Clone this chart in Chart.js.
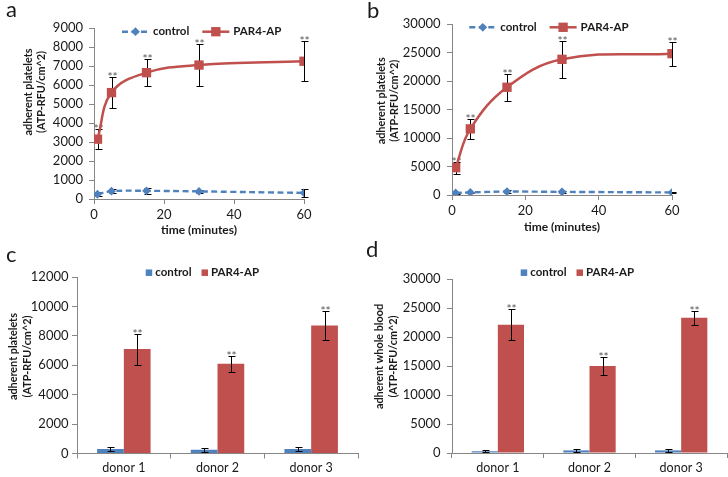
<!DOCTYPE html>
<html><head><meta charset="utf-8">
<script src="https://cdn.jsdelivr.net/npm/chart.js@4.4.1/dist/chart.umd.min.js"></script>
<style>
html,body{margin:0;padding:0;background:#fff;}
#wrap{position:relative;width:728px;height:477px;overflow:hidden;background:#fff;}
canvas{position:absolute;}
</style></head><body>
<div id="wrap">
<canvas id="ca" width="364" height="240" style="left:0;top:0"></canvas>
<canvas id="cb" width="364" height="240" style="left:364px;top:0"></canvas>
<canvas id="cc" width="364" height="237" style="left:0;top:240px"></canvas>
<canvas id="cd" width="364" height="237" style="left:364px;top:240px"></canvas>
</div>
<script>
// ---------------- data ----------------
const times = [1, 5, 15, 30, 60];
const timeTicks = [0, 20, 40, 60];

const aControl    = [250, 410, 430, 400, 320];
const aControlErr = [100, 100, 150, 80, 200];
const aPar        = [3150, 5600, 6650, 7050, 7250];
const aParErr     = [520, 830, 710, 1100, 1060];

const bControl    = [350, 450, 600, 550, 450];
const bControlErr = [150, 150, 200, 150, 150];
const bPar        = [4800, 11600, 18900, 23800, 24800];
const bParErr     = [1050, 1780, 2400, 3200, 2100];

const donors      = ['donor 1', 'donor 2', 'donor 3'];
const cControl    = [300, 250, 300];
const cControlErr = [150, 120, 120];
const cPar        = [7100, 6100, 8700];
const cParErr     = [1050, 550, 980];

const dControl    = [300, 450, 450];
const dControlErr = [200, 200, 200];
const dPar        = [22100, 15000, 23300];
const dParErr     = [2680, 1500, 1200];

const starsLine = ['**', '**', '**', '**', '**'];
const starsBar  = ['**', '**', '**'];

const seriesNames = ['control', 'PAR4-AP'];
const yTitlePlatelets = ['adherent platelets', '(ATP-RFU/cm^2)'];
const yTitleBlood = ['adherent whole blood', '(ATP-RFU/cm^2)'];
const xTitleTime = 'time (minutes)';

// ---------------- style ----------------
const BLUE = '#4F81BD', RED = '#C0504D', AXIS = '#868686', TXT = '#1a1a1a';
const FONT = 'Lato';
Chart.defaults.font.family = FONT;
Chart.defaults.color = TXT;

// ---------------- plugins ----------------
function drawMarker(ctx, style, r, x, y) {
  ctx.beginPath();
  if (style === 'rectRot') {
    ctx.moveTo(x - r, y); ctx.lineTo(x, y - r); ctx.lineTo(x + r, y); ctx.lineTo(x, y + r);
  } else {
    const s = r * Math.SQRT1_2;
    ctx.rect(x - s, y - s, 2 * s, 2 * s);
  }
  ctx.closePath();
  ctx.fill();
}

function drawErrors(chart, o) {
  const ctx = chart.ctx, ys = chart.scales.y;
  chart.data.datasets.forEach((ds, i) => {
    if (!ds.errors) return;
    const meta = chart.getDatasetMeta(i);
    meta.data.forEach((el, j) => {
      const raw = ds.data[j];
      const v = (typeof raw === 'object') ? raw.y : raw;
      const e = ds.errors[j];
      const x = Math.round(el.x) + 0.5;
      const yt = Math.round(ys.getPixelForValue(v + e)) + 0.5;
      const yb = Math.round(ys.getPixelForValue(v - e)) + 0.5;
      const cap = o.cap || 3;
      ctx.save();
      ctx.strokeStyle = '#000';
      ctx.lineWidth = 1;
      ctx.beginPath();
      ctx.moveTo(x, yt); ctx.lineTo(x, yb);
      ctx.moveTo(x - cap, yt); ctx.lineTo(x + cap + 1, yt);
      ctx.moveTo(x - cap, yb); ctx.lineTo(x + cap + 1, yb);
      ctx.stroke();
      if (ds.stars && ds.stars[j]) {
        ctx.fillStyle = '#555';
        ctx.font = '12px ' + FONT;
        ctx.textAlign = 'center';
        ctx.textBaseline = 'alphabetic';
        ctx.fillText(ds.stars[j], x, yt + 3.5);
      }
      ctx.restore();
    });
  });
}

const errorBarsPlugin = {
  id: 'errorBars',
  beforeDatasetsDraw(chart, args, o) { if (o.under) drawErrors(chart, o); },
  afterDatasetsDraw(chart, args, o) { if (!o.under) drawErrors(chart, o); }
};

const insideLegendPlugin = {
  id: 'insideLegend',
  afterDraw(chart, args, o) {
    const ctx = chart.ctx;
    ctx.save();
    ctx.font = 'bold ' + o.size + 'px ' + FONT;
    ctx.textBaseline = 'middle';
    ctx.textAlign = 'left';
    let x = o.x; const y = o.y;
    chart.data.datasets.forEach(ds => {
      if (o.kind === 'line') {
        ctx.strokeStyle = ds.borderColor;
        ctx.lineWidth = ds.borderWidth;
        ctx.setLineDash(ds.borderDash || []);
        ctx.beginPath(); ctx.moveTo(x, y); ctx.lineTo(x + o.sample, y); ctx.stroke();
        ctx.setLineDash([]);
        ctx.fillStyle = ds.pointBackgroundColor;
        drawMarker(ctx, ds.pointStyle, ds.pointRadius, x + o.sample / 2, y);
        x += o.sample + o.textGap;
      } else {
        ctx.fillStyle = ds.backgroundColor;
        ctx.fillRect(x, y - o.box / 2, o.box, o.box);
        x += o.box + o.textGap;
      }
      ctx.fillStyle = TXT;
      ctx.fillText(ds.label, x, y);
      x += ctx.measureText(ds.label).width + o.itemGap;
    });
    ctx.restore();
  }
};

const panelLabelPlugin = {
  id: 'panelLabel',
  afterDraw(chart, args, o) {
    const ctx = chart.ctx;
    ctx.save();
    ctx.font = (o.size || 22) + 'px ' + FONT;
    ctx.fillStyle = TXT;
    ctx.textAlign = 'left';
    ctx.textBaseline = 'alphabetic';
    ctx.fillText(o.text, o.x, o.y);
    ctx.restore();
  }
};

const yTitleShiftPlugin = {
  id: 'yTitleShift',
  afterLayout(chart, args, o) {
    const s = chart.scales.y;
    if (!s || s._shiftWrapped) return;
    const orig = s.drawTitle;
    s.drawTitle = function () {
      const dy = o.dy || 0;
      const t = this.top, b = this.bottom;
      this.top = t + dy; this.bottom = b + dy;
      orig.call(this);
      this.top = t; this.bottom = b;
    };
    s._shiftWrapped = true;
  }
};

const allPlugins = [errorBarsPlugin, insideLegendPlugin, panelLabelPlugin, yTitleShiftPlugin];

// ---------------- builders ----------------
function axisCommon() {
  return {
    grid: { drawOnChartArea: false, drawTicks: true, tickLength: 5, color: AXIS, tickColor: AXIS },
    border: { color: AXIS, width: 1 }
  };
}

function lineChart(id, ctrl, ctrlErr, par, parErr, ymax, ystep, cfg) {
  const yC = axisCommon(), xC = axisCommon();
  return new Chart(document.getElementById(id), {
    type: 'line',
    data: {
      datasets: [
        {
          label: seriesNames[0],
          data: times.map((t, i) => ({ x: t, y: ctrl[i] })),
          errors: ctrlErr,
          borderColor: BLUE, backgroundColor: BLUE,
          borderWidth: 2.4, borderDash: [6, 3.5],
          pointStyle: 'rectRot', pointRadius: 4.4,
          pointBackgroundColor: BLUE, pointBorderColor: BLUE, pointBorderWidth: 0,
          tension: 0.4, fill: false
        },
        {
          label: seriesNames[1],
          data: times.map((t, i) => ({ x: t, y: par[i] })),
          errors: parErr, stars: starsLine,
          borderColor: RED, backgroundColor: RED,
          borderWidth: 2.5,
          pointStyle: 'rect', pointRadius: 6.6,
          pointBackgroundColor: RED, pointBorderColor: RED, pointBorderWidth: 0,
          tension: 0.4, fill: false
        }
      ]
    },
    options: {
      responsive: false, animation: false, devicePixelRatio: 1,
      layout: { padding: cfg.padding },
      plugins: {
        legend: { display: false }, tooltip: { enabled: false },
        errorBars: { under: true, cap: 3 },
        insideLegend: Object.assign({ kind: 'line', size: 11.5, sample: 27, textGap: 4, itemGap: 13 }, cfg.legend),
        panelLabel: cfg.label,
        yTitleShift: { dy: cfg.titleDy }
      },
      scales: {
        x: {
          type: 'linear', min: 0, max: 60,
          afterBuildTicks: s => { s.ticks = timeTicks.map(v => ({ value: v })); },
          ticks: { padding: cfg.xTickPad, font: { size: 13 }, color: TXT },
          grid: xC.grid, border: xC.border,
          title: { display: true, text: xTitleTime, font: { size: 12, weight: 'bold' }, color: TXT,
                   padding: { top: 0, bottom: cfg.xTitlePad } },
          afterFit: s => { s.height = cfg.xHeight; }
        },
        y: {
          min: 0, max: ymax,
          ticks: { stepSize: ystep, padding: cfg.yTickPad, font: { size: 13 }, color: TXT,
                   callback: v => String(v) },
          grid: yC.grid, border: yC.border,
          title: { display: true, text: yTitlePlatelets, font: { size: 10.8, weight: 'bold', lineHeight: 1.25 }, color: TXT,
                   padding: { top: cfg.yTitlePad, bottom: 0 } },
          afterFit: s => { s.width = cfg.yWidth; }
        }
      }
    },
    plugins: allPlugins
  });
}

function barChart(id, ctrl, ctrlErr, par, parErr, ymax, ystep, yTitle, cfg) {
  const yC = axisCommon(), xC = axisCommon();
  return new Chart(document.getElementById(id), {
    type: 'bar',
    data: {
      labels: donors,
      datasets: [
        { label: seriesNames[0], data: ctrl, errors: ctrlErr, backgroundColor: BLUE, borderWidth: 0 },
        { label: seriesNames[1], data: par, errors: parErr, stars: starsBar, backgroundColor: RED, borderWidth: 0 }
      ]
    },
    options: {
      responsive: false, animation: false, devicePixelRatio: 1,
      layout: { padding: cfg.padding },
      datasets: { bar: { categoryPercentage: 0.571, barPercentage: 1 } },
      plugins: {
        legend: { display: false }, tooltip: { enabled: false },
        errorBars: { under: false, cap: 3 },
        insideLegend: Object.assign({ kind: 'box', size: 11.5, box: 6.5, textGap: 3, itemGap: 10 }, cfg.legend),
        panelLabel: cfg.label,
        yTitleShift: { dy: cfg.titleDy }
      },
      scales: {
        x: {
          type: 'category',
          ticks: { padding: cfg.xTickPad, font: { size: 12.5 }, color: TXT },
          grid: Object.assign({ offset: true }, xC.grid), border: xC.border,
          afterFit: s => { s.height = cfg.xHeight; }
        },
        y: {
          min: 0, max: ymax,
          ticks: { stepSize: ystep, padding: cfg.yTickPad, font: { size: 13 }, color: TXT,
                   callback: v => String(v) },
          grid: yC.grid, border: yC.border,
          title: { display: true, text: yTitle, font: { size: 10.8, weight: 'bold', lineHeight: 1.22 }, color: TXT,
                   padding: { top: cfg.yTitlePad, bottom: 0 } },
          afterFit: s => { s.width = cfg.yWidth; }
        }
      }
    },
    plugins: allPlugins
  });
}

// ---------------- charts ----------------
lineChart('ca', aControl, aControlErr, aPar, aParErr, 9000, 1000, {
  padding: { left: 0, top: 28, right: 60, bottom: 0 },
  yWidth: 94, xHeight: 41, xTickPad: 3, xTitlePad: 3, yTickPad: 6, yTitlePad: 21.5,
  titleDy: -21.5,
  legend: { x: 122, y: 31.7 },
  label: { text: 'a', x: 6, y: 17 }
});

lineChart('cb', bControl, bControlErr, bPar, bParErr, 30000, 5000, {
  padding: { left: 0, top: 24, right: 56, bottom: 0 },
  yWidth: 88, xHeight: 45, xTickPad: 3, xTitlePad: 6, yTickPad: 6.5, yTitlePad: 10.5,
  titleDy: -8.7,
  legend: { x: 105.3, y: 27.3 },
  label: { text: 'b', x: 3, y: 18 }
});

barChart('cc', cControl, cControlErr, cPar, cParErr, 12000, 2000, yTitlePlatelets, {
  padding: { left: 0, top: 37, right: 6, bottom: 0 },
  yWidth: 77, xHeight: 23.5, xTickPad: 2, yTickPad: 3.5, yTitlePad: 7.3,
  titleDy: -8.7,
  legend: { x: 145.7, y: 32.7 },
  label: { text: 'c', x: 6, y: 22 }
});

barChart('cd', dControl, dControlErr, dPar, dParErr, 30000, 5000, yTitleBlood, {
  padding: { left: 0, top: 39, right: 1, bottom: 0 },
  yWidth: 88, xHeight: 24, xTickPad: 2, yTickPad: 6.5, yTitlePad: 9.3,
  titleDy: -9.5,
  legend: { x: 156.7, y: 32.7 },
  label: { text: 'd', x: 2, y: 17 }
});
</script>
</body></html>
